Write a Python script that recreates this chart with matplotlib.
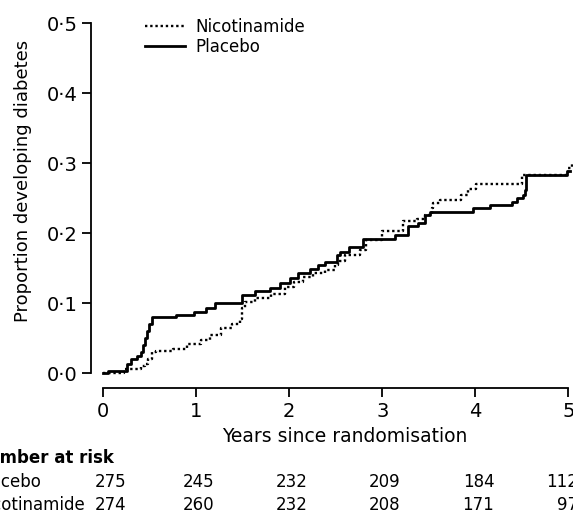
import numpy as np
import matplotlib
matplotlib.use("Agg")
import matplotlib.pyplot as plt

# Kaplan-Meier style cumulative incidence
placebo_t = [0.00, 0.05, 0.25, 0.30, 0.36, 0.40, 0.43, 0.45, 0.47, 0.49, 0.52,
             0.78, 0.98, 1.10, 1.20, 1.49, 1.63, 1.79, 1.90, 2.01, 2.09, 2.22,
             2.31, 2.38, 2.51, 2.54, 2.64, 2.79, 3.14, 3.28, 3.38, 3.46, 3.51,
             3.97, 4.16, 4.39, 4.45, 4.51, 4.53, 4.55, 4.99, 5.02]
placebo_p = [0.000, 0.004, 0.013, 0.020, 0.025, 0.030, 0.040, 0.050, 0.060, 0.070, 0.080,
             0.084, 0.088, 0.094, 0.101, 0.112, 0.117, 0.122, 0.129, 0.136, 0.144, 0.149,
             0.155, 0.159, 0.169, 0.174, 0.181, 0.192, 0.197, 0.210, 0.215, 0.226, 0.230,
             0.236, 0.240, 0.245, 0.250, 0.255, 0.262, 0.283, 0.289, 0.289]

nicotinamide_t = [0.00, 0.22, 0.40, 0.45, 0.48, 0.52, 0.57, 0.75, 0.90, 1.05, 1.15,
                  1.27, 1.38, 1.47, 1.49, 1.52, 1.63, 1.80, 1.95, 2.05, 2.15, 2.26,
                  2.38, 2.49, 2.52, 2.60, 2.76, 2.83, 3.00, 3.22, 3.37, 3.46, 3.53,
                  3.55, 3.62, 3.85, 3.92, 4.01, 4.50, 5.00, 5.04]
nicotinamide_p = [0.000, 0.006, 0.010, 0.013, 0.020, 0.030, 0.032, 0.035, 0.042, 0.048, 0.055,
                  0.065, 0.070, 0.077, 0.093, 0.102, 0.107, 0.113, 0.124, 0.131, 0.138, 0.143,
                  0.148, 0.155, 0.160, 0.169, 0.176, 0.190, 0.203, 0.217, 0.221, 0.226, 0.236,
                  0.243, 0.248, 0.255, 0.264, 0.271, 0.283, 0.293, 0.302]

risk_years = [0, 1, 2, 3, 4, 5]
risk_placebo = [275, 245, 232, 209, 184, 112]
risk_nicotinamide = [274, 260, 232, 208, 171, 97]

yticks = [0.0, 0.1, 0.2, 0.3, 0.4, 0.5]

plt.rcParams['font.family'] = ['DejaVu Sans']

W, H = 573, 515
fig = plt.figure(figsize=(W / 100, H / 100), dpi=100)

# axes box in pixels: left 91, right 573, top 18, bottom 388
L, R, T, B = 91, 573, 18, 388
ax = fig.add_axes([L / W, 1 - B / H, (R - L) / W, (B - T) / H])
# x: 0 -> px 103.3, 93 px per year ; y: 0 -> px 373.3, 700 px per unit
ax.set_xlim((L - 103.3) / 93, (R - 103.3) / 93)
ax.set_ylim((373.3 - B) / 700, (373.3 - T) / 700)

ax.step(nicotinamide_t, nicotinamide_p, where='post', color='black',
        lw=1.7, linestyle=(0, (1, 1.2)), label='Nicotinamide')
ax.step(placebo_t, placebo_p, where='post', color='black', lw=2.0,
        label='Placebo')

for s in ['top', 'right']:
    ax.spines[s].set_visible(False)
ax.spines['left'].set_bounds(0, 0.5)
ax.spines['bottom'].set_bounds(0, 5)
ax.spines['left'].set_linewidth(1.3)
ax.spines['bottom'].set_linewidth(1.3)

ax.set_yticks(yticks)
ax.set_yticklabels([f"{v:.1f}".replace('.', '\u00b7') for v in yticks])
ax.set_xticks(risk_years)
ax.tick_params(axis='both', length=6.5, width=1.3, labelsize=14, direction='out')
ax.tick_params(axis='y', pad=3)
ax.tick_params(axis='x', pad=3.5)

ax.set_ylabel('Proportion developing diabetes', fontsize=13)
ax.yaxis.set_label_coords((32 - L) / (R - L), (B - 181) / (B - T))
ax.set_xlabel('Years since randomisation', fontsize=13.5)
ax.xaxis.set_label_coords((345 - L) / (R - L), (B - 427) / (B - T))

leg = ax.legend(loc='upper left', bbox_to_anchor=(145 / W, 1 - 18 / H),
                bbox_transform=fig.transFigure, frameon=False, fontsize=12,
                handlelength=2.4, handletextpad=0.65, labelspacing=0.12,
                borderpad=0, borderaxespad=0)

# number at risk table
def fx(px):
    return px / W

def fy(py):
    return 1 - py / H

xs = [ax.transData.transform((yr, 0))[0] for yr in risk_years]
fig.text(fx(-26), fy(458), 'Number at risk', fontsize=12, fontweight='bold',
         va='center', ha='left')
fig.text(fx(-24), fy(482), 'Placebo', fontsize=12, va='center', ha='left')
fig.text(fx(-25), fy(505), 'Nicotinamide', fontsize=12, va='center', ha='left')
offs = [23, 18, 18, 18, 19, 10]
for i, x in enumerate(xs):
    fig.text(fx(x + offs[i]), fy(482), str(risk_placebo[i]), fontsize=12,
             va='center', ha='right')
    fig.text(fx(x + offs[i]), fy(505), str(risk_nicotinamide[i]), fontsize=12,
             va='center', ha='right')

fig.savefig('out.png', dpi=100)
